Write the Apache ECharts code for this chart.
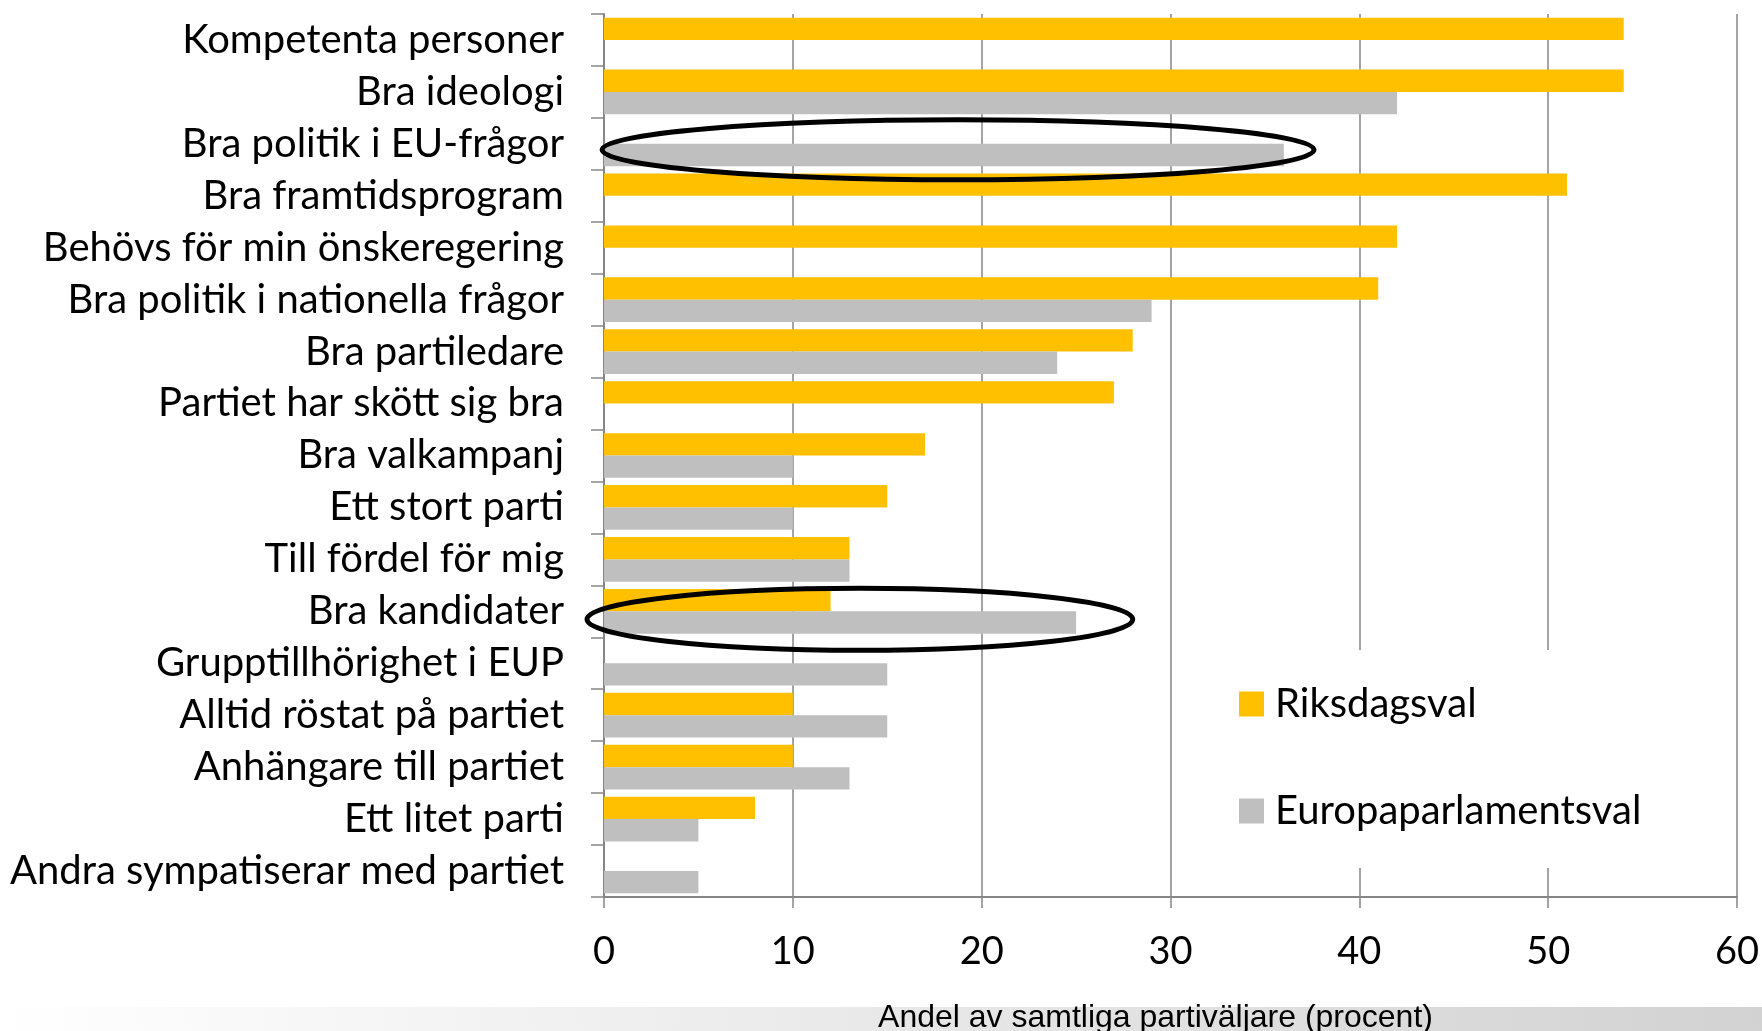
<!DOCTYPE html>
<html>
<head>
<meta charset="utf-8">
<title>Skäl för partival</title>
<script src="https://cdn.jsdelivr.net/npm/echarts@6/dist/echarts.min.js"></script>
<style>
  html, body { margin: 0; padding: 0; background: #fff; }
  #main { width: 1762px; height: 1031px; }
</style>
</head>
<body>
<div id="main"></div>
<script>
// skäl, uppifrån och ned
var categories = [
  'Kompetenta personer', 'Bra ideologi', 'Bra politik i EU-frågor', 'Bra framtidsprogram',
  'Behövs för min önskeregering', 'Bra politik i nationella frågor', 'Bra partiledare',
  'Partiet har skött sig bra', 'Bra valkampanj', 'Ett stort parti', 'Till fördel för mig',
  'Bra kandidater', 'Grupptillhörighet i EUP', 'Alltid röstat på partiet',
  'Anhängare till partiet', 'Ett litet parti', 'Andra sympatiserar med partiet'
];
var riksdagsval = [54, 54, null, 51, 42, 41, 28, 27, 17, 15, 13, 12, null, 10, 10, 8, null];
var europaval   = [null, 42, 36, null, null, 29, 24, null, 10, 10, 13, 25, 15, 15, 13, 5, 5];
var xTicks = [0, 10, 20, 30, 40, 50, 60];

var labelFont = 'Lato, "Open Sans", sans-serif';
var gridColor = '#868686';

var chart = echarts.init(document.getElementById('main'));
var option = {
  animation: false,
  backgroundColor: '#fff',
  grid: { left: 604, right: 25, top: 14, bottom: 134, containLabel: false, outerBoundsMode: 'none' },
  legend: {
    orient: 'vertical',
    left: 1225, top: 650,
    padding: [32, 40, 35, 14],
    backgroundColor: '#fff',
    itemWidth: 25, itemHeight: 25, itemGap: 63,
    icon: 'rect',
    textStyle: { fontFamily: labelFont, fontSize: 40, color: '#000', lineHeight: 44, padding: [0, 0, 0, 6] },
    data: ['Riksdagsval', 'Europaparlamentsval']
  },
  xAxis: {
    type: 'value',
    min: xTicks[0], max: xTicks[xTicks.length - 1], interval: 10,
    axisLine: { show: true, lineStyle: { color: gridColor, width: 2 } },
    axisTick: { show: true, length: 11, lineStyle: { color: gridColor, width: 1.5 } },
    splitLine: { show: true, lineStyle: { color: gridColor, width: 1.5 } },
    axisLabel: { fontFamily: labelFont, fontSize: 38, color: '#000', margin: 36 },
    name: 'Andel av samtliga partiväljare (procent)',
    nameLocation: 'middle',
    nameGap: 105,
    nameTextStyle: { fontFamily: '"Liberation Sans Narrow", "Liberation Sans", sans-serif', fontSize: 32, color: '#000', padding: [0, 30, 0, 0] }
  },
  yAxis: {
    type: 'category',
    inverse: true,
    data: categories,
    axisLine: { show: true, lineStyle: { color: gridColor, width: 2 } },
    axisTick: { show: true, length: 13, lineStyle: { color: gridColor, width: 1.5 } },
    axisLabel: { fontFamily: labelFont, fontSize: 40, color: '#000', margin: 40, interval: 0 }
  },
  series: [
    {
      name: 'Riksdagsval', type: 'bar', data: riksdagsval,
      itemStyle: { color: '#FFC000' },
      barGap: '0%', barCategoryGap: '14%'
    },
    {
      name: 'Europaparlamentsval', type: 'bar', data: europaval,
      itemStyle: { color: '#BFBFBF' },
      barGap: '0%', barCategoryGap: '14%'
    }
  ]
};
chart.setOption(option);

// ringar kring de markerade raderna
function ring(catIndex, from, to, dy, ry) {
  var a = chart.convertToPixel({ gridIndex: 0 }, [from, catIndex]);
  var b = chart.convertToPixel({ gridIndex: 0 }, [to, catIndex]);
  return {
    type: 'ellipse', z: 100,
    shape: { cx: (a[0] + b[0]) / 2, cy: a[1] + dy, rx: (b[0] - a[0]) / 2, ry: ry },
    style: { fill: 'none', stroke: '#000', lineWidth: 5 }
  };
}

chart.setOption({
  graphic: [
    {
      type: 'rect', z: -10, silent: true,
      shape: { x: 0, y: 1007, width: 1762, height: 24 },
      style: {
        fill: new echarts.graphic.LinearGradient(0, 0, 1, 0, [
          { offset: 0, color: '#ffffff' },
          { offset: 1, color: '#d2d2d2' }
        ])
      }
    },
    ring(2, -0.1, 37.6, 6, 30),
    ring(11, -0.9, 28.0, 8, 31)
  ]
});
</script>
</body>
</html>
